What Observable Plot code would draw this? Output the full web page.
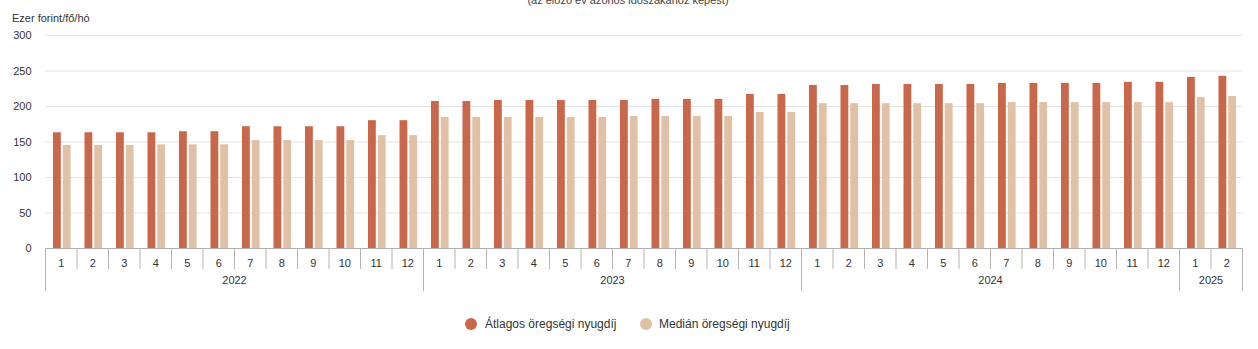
<!DOCTYPE html>
<html>
<head>
<meta charset="utf-8">
<script src="https://cdn.jsdelivr.net/npm/d3@7"></script>
<script src="https://cdn.jsdelivr.net/npm/@observablehq/plot@0.6"></script>
<style>
  html, body { margin: 0; padding: 0; background: #fff; }
  body { width: 1258px; height: 349px; position: relative; overflow: hidden; font-family: "Liberation Sans", Arial, sans-serif; color: #333; }
  #subtitle { position: absolute; left: 0; width: 1256px; top: -6px; text-align: center; font-size: 11px; line-height: 12px; color: #444; }
  #ylabel { position: absolute; left: 12px; top: 12px; font-size: 11px; line-height: 12px; color: #333; }
  #chart { position: absolute; left: 0; top: 0; }
  .leg { position: absolute; top: 317px; font-size: 12px; line-height: 14px; color: #333; white-space: nowrap; }
  .dot { position: absolute; width: 12px; height: 12px; border-radius: 50%; top: 1px; }
</style>
</head>
<body>
<div id="subtitle">(az előző év azonos időszakához képest)</div>
<div id="ylabel">Ezer forint/fő/hó</div>
<div id="chart"></div>
<div class="leg" id="leg1" style="left:465px"><span class="dot" style="left:0;background:#c9674b"></span><span style="margin-left:20px">Átlagos öregségi nyugdíj</span></div>
<div class="leg" id="leg2" style="left:640px"><span class="dot" style="left:0;background:#e0c1a6"></span><span style="margin-left:19px">Medián öregségi nyugdíj</span></div>
<script>
// ---- data ----
const years = [2022, 2023, 2024, 2025];
const monthsPerYear = [12, 12, 12, 2];
const avgPension = [
  163, 163, 163, 163, 164.5, 164.5, 171.5, 171.5, 171.5, 171.5, 180, 180,
  207, 207, 208.5, 208.5, 208.5, 208.5, 208.5, 210, 210, 210, 217, 217,
  229.5, 229.5, 231, 231, 231, 231, 232.5, 232.5, 232.5, 232.5, 234, 234,
  241, 242.5
];
const medianPension = [
  145, 145, 145, 146, 146, 146, 152, 152, 152, 152, 159, 159,
  184.5, 184.5, 184.5, 184.5, 184.5, 184.5, 186, 186, 186, 186, 191.5, 191.5,
  204, 204, 204, 204, 204, 204, 205.5, 205.5, 205.5, 205.5, 205.5, 205.5,
  212.5, 214
];
const yTicks = [0, 50, 100, 150, 200, 250, 300];
const seriesNames = ["Átlagos öregségi nyugdíj", "Medián öregségi nyugdíj"];
const colors = ["#c9674b", "#e0c1a6"];

// ---- build table ----
const rows = [];
years.forEach((yr, yi) => {
  for (let m = 1; m <= monthsPerYear[yi]; m++) rows.push({year: yr, month: m, key: `${yr}-${m}`});
});
rows.forEach((r, i) => { r.avg = avgPension[i]; r.med = medianPension[i]; });
const keys = rows.map(r => r.key);
const yearFirstKeys = years.map(y => `${y}-1`);
const yearMidKeys = years.map((y, i) => `${y}-${monthsPerYear[i] / 2 + 1}`);
const lastKey = keys[keys.length - 1];

const W = 1258, ML = 45, MR = 16;
const bw = (W - ML - MR) / keys.length;

const plot = Plot.plot({
  width: W,
  height: 300,
  marginLeft: ML,
  marginRight: MR,
  marginTop: 35,
  marginBottom: 52,
  style: {fontFamily: "'Liberation Sans', Arial, sans-serif", fontSize: "11px", color: "#333", background: "transparent"},
  x: {type: "band", domain: keys, padding: 0, round: false},
  y: {domain: [0, 300]},
  marks: [
    Plot.gridY(yTicks.filter(v => v > 0), {stroke: "#e3e3e3", strokeOpacity: 1}),
    Plot.axisY({ticks: yTicks, tickSize: 0, tickPadding: 14, label: null, fontSize: 11}),
    Plot.barY(rows, {x: "key", y: "avg", fill: colors[0], insetLeft: 8, insetRight: 15.7}),
    Plot.barY(rows, {x: "key", y: "med", fill: colors[1], insetLeft: 17.8, insetRight: 5.9}),
    Plot.ruleY([0], {stroke: "#b0b0b0"}),
    Plot.axisX({tickSize: 0, tickPadding: 11, label: null, fontSize: 11, tickFormat: k => k.split("-")[1]}),
    // month separators
    Plot.ruleX(keys, {x: d => d, y1: 0, y2: 0, insetBottom: -21, dx: -bw / 2, stroke: "#b3b3b3"}),
    // year separators
    Plot.ruleX(yearFirstKeys, {x: d => d, y1: 0, y2: 0, insetBottom: -43, dx: -bw / 2, stroke: "#b3b3b3"}),
    Plot.ruleX([lastKey], {x: d => d, y1: 0, y2: 0, insetBottom: -43, dx: bw / 2, stroke: "#b3b3b3"}),
    // year labels
    Plot.text(years, {x: (d, i) => yearMidKeys[i], text: d => String(d), dx: -bw / 2, frameAnchor: "bottom", dy: 35, fontSize: 11, fill: "#333"})
  ]
});
document.getElementById("chart").appendChild(plot);
</script>
</body>
</html>
